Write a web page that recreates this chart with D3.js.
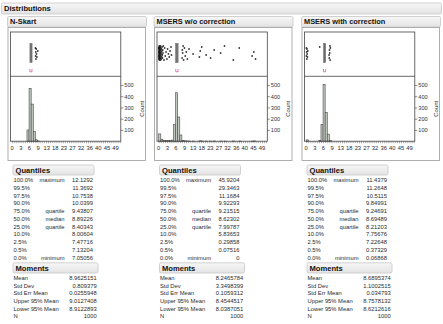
<!DOCTYPE html>
<html>
<head>
<meta charset="utf-8">
<script src="https://cdn.jsdelivr.net/npm/d3@7"></script>
<style>
  body { margin: 0; background: #fff; }
  text { font-family: "Liberation Sans", Arial, sans-serif; fill: #2a2a2a; }
</style>
</head>
<body>
<svg width="443" height="324"></svg>
<script>
// panel titles
var titles = ["N-Skart", "MSERS w/o correction", "MSERS with correction"];

// histogram counts, bin i = [i, i+1)
var nskartCounts = [0, 0, 0, 0, 0, 0, 0, 100, 470, 330, 85, 13, 2];
var mserCounts = [65, 18, 8, 6, 5, 6, 10, 150, 431, 215, 55, 6, 4, 2, 1, 0, 1, 0, 0, 3, 2, 0, 1, 0, 1, 0, 2, 0, 0, 1, 0, 1, 0, 0, 0, 2, 0, 0, 1, 0, 0, 0, 0, 0, 1, 2];
var mserCCounts = [12, 0, 0, 0, 0, 0, 8, 150, 505, 255, 63, 7];

// outlier points of the box plots
var nskartOut = [11.02, 11.1, 11.18, 11.25, 11.39, 11.52, 11.7, 12.13];
var mserOut = [0, 0.02, 0.05, 0.08, 0.1, 0.12, 0.14, 0.16, 0.18, 0.2, 0.22, 0.25, 0.27, 0.3, 0.33, 0.35, 0.38,
  0.41, 0.45, 0.48, 0.52, 0.55, 0.6, 0.63, 0.68, 0.72, 0.76, 0.8, 0.85, 0.9, 0.95,
  1.05, 1.12, 1.2, 1.28, 1.35, 1.42, 1.5, 1.6, 1.7, 1.8, 1.9, 2.05, 2.2, 2.5, 2.8, 3.1, 3.5, 3.9, 4.2, 4.6, 5.0, 5.4, 5.84, 6.05,
  11.1, 11.2, 11.35, 11.6, 11.8, 12.2, 12.6, 13.1, 13.6, 14.4, 16.3, 19.3, 19.7, 20.4, 22.5, 24.6, 26.3,
  29.35, 31.2, 35.4, 38.2, 44.3, 45.1, 45.92];
var mserCOut = [0.07, 0.12, 0.2, 0.31, 0.37, 0.45, 0.6, 0.75, 6.4, 10.85, 10.95, 11.05, 11.15, 11.26, 11.35, 11.44];

// shortest half
var nskartShort = [8.4, 9.4];
var mserShort = [8.1, 9.2];
var mserCShort = [8.2, 9.2];

// axis labels
var countTicks = [100, 200, 300, 400, 500];
var xLabels = ["0", "3", "6", "9", "13", "18", "23", "27", "32", "36", "40", "45", "49"];

// tables
var quantLevels = ["100.0%", "99.5%", "97.5%", "90.0%", "75.0%", "50.0%", "25.0%", "10.0%", "2.5%", "0.5%", "0.0%"];
var quantNames = ["maximum", "", "", "", "quartile", "median", "quartile", "", "", "", "minimum"];
var nskartQ = ["12.1292", "11.3692", "10.7538", "10.0399", "9.43807", "8.89226", "8.40343", "8.00604", "7.47716", "7.13204", "7.05056"];
var mserQ = ["45.9204", "29.3463", "11.1684", "9.92293", "9.21515", "8.62302", "7.99787", "5.83653", "0.29858", "0.07516", "0"];
var mserCQ = ["11.4379", "11.2648", "10.5115", "9.84991", "9.24691", "8.69489", "8.21203", "7.75676", "7.22648", "0.37329", "0.06868"];

var momentNames = ["Mean", "Std Dev", "Std Err Mean", "Upper 95% Mean", "Lower 95% Mean", "N"];
var nskartM = ["8.9625151", "0.809379", "0.0255948", "9.0127408", "8.9122893", "1000"];
var mserM = ["8.2465784", "3.3498399", "0.1059312", "8.4544517", "8.0387051", "1000"];
var mserCM = ["8.6895374", "1.1002515", "0.034793", "8.7578132", "8.6212616", "1000"];

var panels = [
  {title: titles[0], counts: nskartCounts, out: nskartOut, shorth: nskartShort, q: nskartQ, m: nskartM},
  {title: titles[1], counts: mserCounts, out: mserOut, shorth: mserShort, q: mserQ, m: mserM},
  {title: titles[2], counts: mserCCounts, out: mserCOut, shorth: mserCShort, q: mserCQ, m: mserCM}
];

var svg = d3.select("svg");
var panelX = [8, 154.5, 302];
var jitter = [-5, 3, -1, 6, -4, 1, 4, -2, -6, 2, 5, -3, 0, -7, 7];

var defs = svg.append("defs");
var grad = defs.append("linearGradient").attr("id", "hdr").attr("x1", 0).attr("y1", 0).attr("x2", 0).attr("y2", 1);
grad.append("stop").attr("offset", "0%").attr("stop-color", "#f7f7f7");
grad.append("stop").attr("offset", "100%").attr("stop-color", "#e3e3e3");

function header(g, x, y, w, h, label, size) {
  g.append("rect").attr("x", x).attr("y", y).attr("width", w).attr("height", h)
    .attr("rx", 1.5).attr("fill", "url(#hdr)").attr("stroke", "#c6c6c6").attr("stroke-width", 0.8);
  g.append("text").attr("x", x + 2.5).attr("y", y + h / 2).attr("dy", "0.36em")
    .attr("font-size", size).attr("font-weight", "bold").style("fill", "#111").text(label);
}

header(svg, 1.5, 3, 440, 11, "Distributions", "7.6px");

panels.forEach(function(p, i) {
  var px = panelX[i];
  var g = svg.append("g");

  header(g, px - 0.5, 16.5, 139, 10.5, p.title, "7.4px");

  g.append("rect").attr("x", px).attr("y", 27.5).attr("width", 137.5).attr("height", 133)
    .attr("fill", "#fff").attr("stroke", "#a6a6a6").attr("stroke-width", 0.9);

  var left = px + 2.5, right = left + 110.3;
  var top = 32, mid = 76.3, bottom = 141.2;

  var x = d3.scaleLinear().domain([-0.8, 51.5]).range([left, right]);
  var y = d3.scaleLinear().domain([0, 577]).range([bottom, mid]);

  // bars
  g.append("g").selectAll("rect")
    .data(p.counts.map(function(c, k) { return {bin: k, count: c}; }).filter(function(d) { return d.count > 0; }))
    .enter().append("rect")
    .attr("x", function(d) { return x(d.bin); })
    .attr("width", function(d) { return x(d.bin + 1) - x(d.bin); })
    .attr("y", function(d) { return y(d.count); })
    .attr("height", function(d) { return bottom - y(d.count); })
    .attr("fill", "#bfc7bf")
    .attr("stroke", "#4a4a4a")
    .attr("stroke-width", 0.6);

  // frame
  g.append("rect").attr("x", left).attr("y", top).attr("width", right - left).attr("height", bottom - top)
    .attr("fill", "none").attr("stroke", "#444").attr("stroke-width", 0.8);
  g.append("line").attr("x1", left).attr("x2", right).attr("y1", mid).attr("y2", mid)
    .attr("stroke", "#444").attr("stroke-width", 0.8);

  // box plot
  var q1 = +p.q[6], med = +p.q[5], q3 = +p.q[4];
  var by0 = 43.5, by1 = 62.5;
  g.append("rect").attr("x", x(q1)).attr("y", by0).attr("width", x(q3) - x(q1)).attr("height", by1 - by0)
    .attr("fill", "#828282").attr("stroke", "#666").attr("stroke-width", 0.5);
  g.append("line").attr("x1", x(med)).attr("x2", x(med)).attr("y1", by0).attr("y2", by1)
    .attr("stroke", "#555").attr("stroke-width", 0.5);

  g.append("g").selectAll("rect")
    .data(p.out)
    .enter().append("rect")
    .attr("x", function(d) { return x(d) - 0.75; })
    .attr("y", function(d, k) { return 53 + jitter[k % jitter.length] - 0.75; })
    .attr("width", 1.5).attr("height", 1.5)
    .attr("fill", "#111");

  // shortest half bracket
  var sx0 = x(p.shorth[0]), sx1 = x(p.shorth[1]);
  g.append("path")
    .attr("d", "M" + sx0 + ",69 V71.8 H" + sx1 + " V69")
    .attr("fill", "none").attr("stroke", "#d2479a").attr("stroke-width", 0.7);

  // count axis
  var ay = g.append("g")
    .attr("transform", "translate(" + right + ",0)")
    .call(d3.axisRight(y).tickValues(countTicks).tickSize(2.5).tickSizeOuter(0));
  ay.select(".domain").remove();
  ay.selectAll("line").attr("stroke", "#444").attr("stroke-width", 0.6);
  ay.selectAll("text").attr("font-size", "5.6px").attr("x", 3.5).style("fill", "#333");

  g.append("text")
    .attr("transform", "translate(" + (px + 133.5) + "," + ((mid + bottom) / 2) + ") rotate(-90)")
    .attr("text-anchor", "middle").attr("dy", "0.35em")
    .attr("font-size", "6px").text("Count");

  // bottom ticks
  var ax = g.append("g")
    .attr("transform", "translate(0," + bottom + ")")
    .call(d3.axisBottom(x).tickValues(d3.range(0, 52)).tickSize(2).tickFormat(""));
  ax.select(".domain").remove();
  ax.selectAll("line").attr("stroke", "#444").attr("stroke-width", 0.5);

  var lx = d3.scalePoint().domain(xLabels).range([x(0), x(49)]);
  g.append("g").selectAll("text")
    .data(xLabels)
    .enter().append("text")
    .attr("x", function(d) { return lx(d); })
    .attr("y", 148)
    .attr("dy", "0.35em")
    .attr("text-anchor", "middle")
    .attr("font-size", "5.8px")
    .text(function(d) { return d; });

  // Quantiles
  header(g, px + 5, 165, 81, 10, "Quantiles", "7.6px");
  var qy = d3.scalePoint().domain(d3.range(quantLevels.length)).range([180, 257.6]);
  var rows = g.append("g").selectAll("g")
    .data(quantLevels)
    .enter().append("g")
    .attr("transform", function(d, k) { return "translate(0," + qy(k) + ")"; });
  rows.append("text").attr("x", px + 5.5).attr("dy", "0.35em").attr("font-size", "5.8px")
    .text(function(d) { return d; });
  rows.append("text").attr("x", px + 56.5).attr("dy", "0.35em").attr("font-size", "5.8px")
    .attr("text-anchor", "end").text(function(d, k) { return quantNames[k]; });
  rows.append("text").attr("x", px + 85).attr("dy", "0.35em").attr("font-size", "5.8px")
    .attr("text-anchor", "end").text(function(d, k) { return p.q[k]; });

  // Moments
  header(g, px + 5, 262.8, 85, 10.2, "Moments", "7.6px");
  var my = d3.scalePoint().domain(d3.range(momentNames.length)).range([278, 316.4]);
  var mrows = g.append("g").selectAll("g")
    .data(momentNames)
    .enter().append("g")
    .attr("transform", function(d, k) { return "translate(0," + my(k) + ")"; });
  mrows.append("text").attr("x", px + 5.5).attr("dy", "0.35em").attr("font-size", "5.8px")
    .text(function(d) { return d; });
  mrows.append("text").attr("x", px + 88.7).attr("dy", "0.35em").attr("font-size", "5.8px")
    .attr("text-anchor", "end").text(function(d, k) { return p.m[k]; });
});
</script>
</body>
</html>
